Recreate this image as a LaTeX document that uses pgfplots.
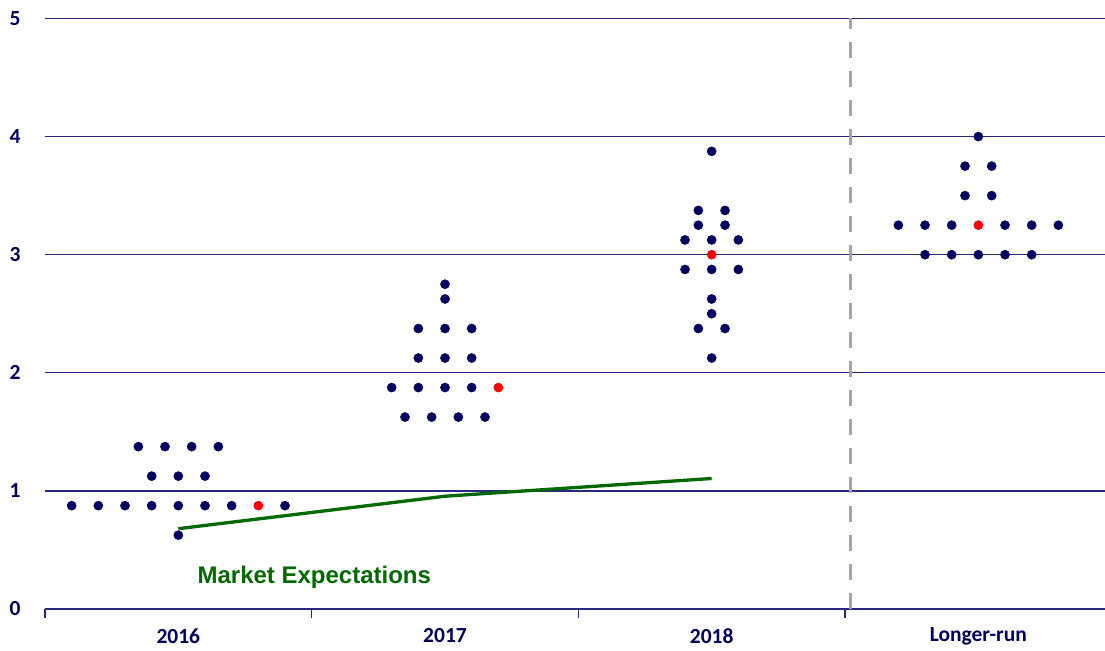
\documentclass[border=0pt]{standalone}
\usepackage{fontspec}
\setmainfont{Carlito}
\newfontfamily\arialfont{Liberation Sans}
\usepackage{pgfplots}
\pgfplotsset{compat=1.18}
\definecolor{navy}{RGB}{0,0,96}
\definecolor{gridnavy}{RGB}{40,40,130}
\definecolor{mgreen}{RGB}{0,105,0}
\definecolor{dgray}{RGB}{165,165,165}
\pgfplotstableread{
x y
0.1 0.875
0.2 0.875
0.3 0.875
0.4 0.875
0.5 0.875
0.6 0.875
0.7 0.875
0.9 0.875
0.5 0.625
0.4 1.125
0.5 1.125
0.6 1.125
0.35 1.375
0.45 1.375
0.55 1.375
0.65 1.375
1.3 1.875
1.4 1.875
1.5 1.875
1.6 1.875
1.35 1.625
1.45 1.625
1.55 1.625
1.65 1.625
1.4 2.125
1.5 2.125
1.6 2.125
1.4 2.375
1.5 2.375
1.6 2.375
1.5 2.625
1.5 2.75
2.5 2.125
2.45 2.375
2.55 2.375
2.5 2.5
2.5 2.625
2.4 2.875
2.5 2.875
2.6 2.875
2.4 3.125
2.5 3.125
2.6 3.125
2.45 3.25
2.55 3.25
2.45 3.375
2.55 3.375
2.5 3.875
3.2 3.25
3.3 3.25
3.4 3.25
3.6 3.25
3.7 3.25
3.8 3.25
3.3 3.0
3.4 3.0
3.5 3.0
3.6 3.0
3.7 3.0
3.45 3.5
3.55 3.5
3.45 3.75
3.55 3.75
3.5 4.0
}\dotsnavy
\pgfplotstableread{
x y
0.8 0.875
1.7 1.875
2.5 3.0
3.5 3.25
}\dotsred
\pgfplotstableread{
x y
0.5 0.68
1.5 0.955
2.5 1.105
}\market
\begin{document}
\begin{tikzpicture}
\path[use as bounding box] (0,0) rectangle (1105bp,651bp);
\begin{axis}[
  at={(45bp,42bp)}, anchor=south west,
  scale only axis, width=1060bp, height=590.5bp,
  xmin=0, xmax=3.975, ymin=0, ymax=5,
  axis x line*=bottom, axis y line*=left,
  y axis line style={draw=none},
  x axis line style={gridnavy, line width=1.4bp},
  ytick={0,1,2,3,4,5}, ytick style={draw=none},
  ymajorgrids, major grid style={gridnavy, line width=1.3bp},
  xtick={0,1,2,3}, xticklabels={},
  tick align=outside, major tick length=9bp,
  xtick style={gridnavy, line width=1.6bp},
  extra x ticks={0.5,1.5,2.5,3.5},
  extra x tick labels={2016,2017,2018,Longer-run},
  extra x tick style={major tick length=0pt, grid=none},
  /pgf/number format/assume math mode=true,
  ticklabel style={font=\fontsize{21.5bp}{24bp}\selectfont\bfseries, text=navy},
  xticklabel style={anchor=center, yshift=-27bp},
  yticklabel style={anchor=center, xshift=-21bp},
  clip=false,
]
\addplot[dgray, line width=3bp, dash pattern=on 16bp off 13bp] coordinates {(3.022,0) (3.022,5)};
\addplot[mgreen, line width=3.3bp] table[x=x,y=y] {\market};
\addplot[only marks, mark=*, mark size=4.6bp, mark options={draw=navy, fill=navy}] table[x=x,y=y] {\dotsnavy};
\addplot[only marks, mark=*, mark size=4.6bp, mark options={draw=red, fill=red}] table[x=x,y=y] {\dotsred};
\node[font={\arialfont\fontsize{24bp}{28bp}\selectfont\bfseries}, text=mgreen] at (axis cs:1.01,0.27) {Market Expectations};
\end{axis}
\end{tikzpicture}
\end{document}
